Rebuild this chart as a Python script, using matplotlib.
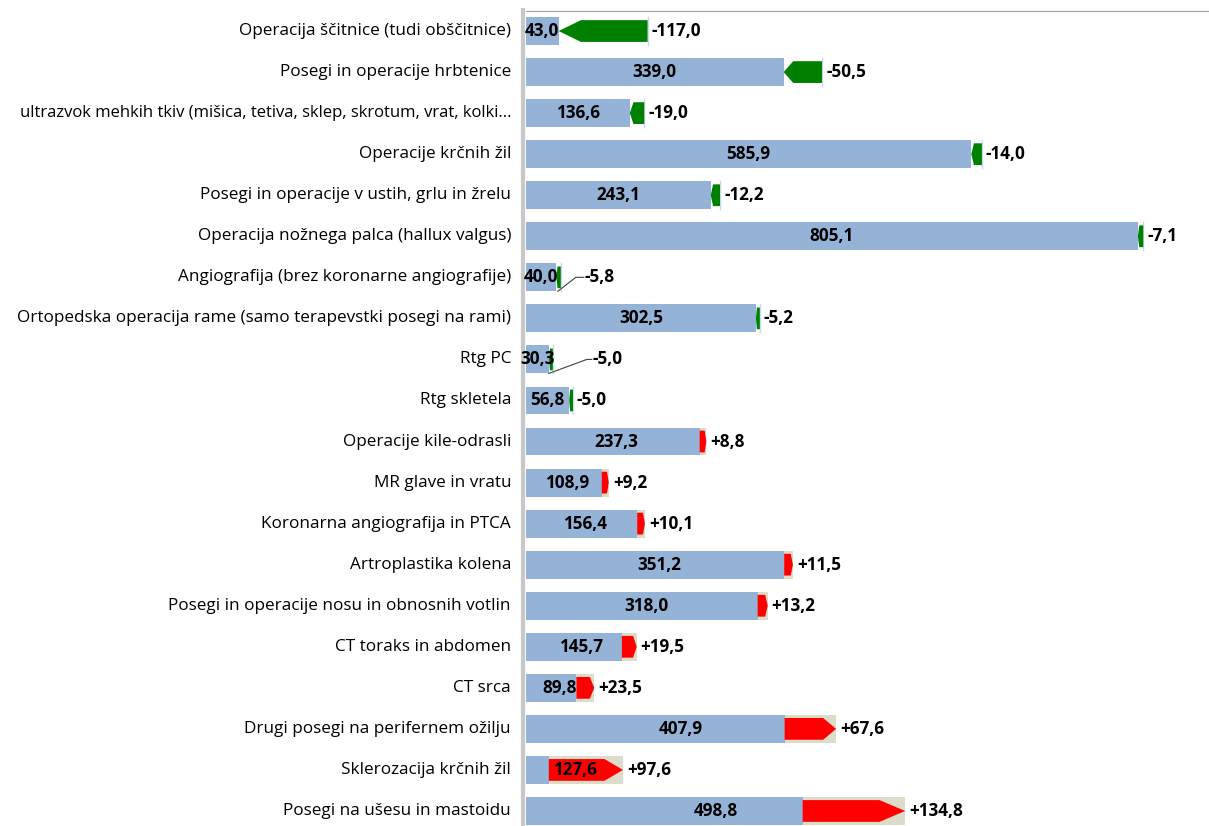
import numpy as np
import matplotlib.pyplot as plt
from matplotlib.patches import Polygon

categories = [
    'Operacija ščitnice (tudi obščitnice)',
    'Posegi in operacije hrbtenice',
    'ultrazvok mehkih tkiv (mišica, tetiva, sklep, skrotum, vrat, kolki...',
    'Operacije krčnih žil',
    'Posegi in operacije v ustih, grlu in žrelu',
    'Operacija nožnega palca (hallux valgus)',
    'Angiografija (brez koronarne angiografije)',
    'Ortopedska operacija rame (samo terapevstki posegi na rami)',
    'Rtg PC',
    'Rtg skletela',
    'Operacije kile-odrasli',
    'MR glave in vratu',
    'Koronarna angiografija in PTCA',
    'Artroplastika kolena',
    'Posegi in operacije nosu in obnosnih votlin',
    'CT toraks in abdomen',
    'CT srca',
    'Drugi posegi na perifernem ožilju',
    'Sklerozacija krčnih žil',
    'Posegi na ušesu in mastoidu',
]
current = [43.0, 339.0, 136.6, 585.9, 243.1, 805.1, 40.0, 302.5, 30.3, 56.8,
           237.3, 108.9, 156.4, 351.2, 318.0, 145.7, 89.8, 407.9, 127.6, 498.8]
change = [-117.0, -50.5, -19.0, -14.0, -12.2, -7.1, -5.8, -5.2, -5.0, -5.0,
          8.8, 9.2, 10.1, 11.5, 13.2, 19.5, 23.5, 67.6, 97.6, 134.8]

plt.rcParams['font.family'] = ['Open Sans', 'DejaVu Sans']
fs = 12.3
plt.rcParams['font.size'] = fs

W, H = 1209, 826
fig = plt.figure(figsize=(W / 100, H / 100), dpi=100)
x0, x1 = 526, 1210
y_top, y_bot = 10.5, 831.5
ax = fig.add_axes([x0 / W, (H - y_bot) / H, (x1 - x0) / W, (y_bot - y_top) / H])

n = len(categories)
xmax = 900
ax.set_xlim(0, xmax)
ax.set_ylim(n - 0.5, -0.5)
px = xmax / (x1 - x0)      # data units per pixel
py = n / (y_bot - y_top)

blue = '#95B3D7'
beige = '#DDDBC9'
green = '#008000'
red = '#FF0000'
bar_h = 0.68
arr_h = 0.53

# labels that were moved away with a leader line: (knee px, label px, line start px)
leaders = {6: (15, 24, -3), 8: (34, 40, -4)}

for i, (cur, d) in enumerate(zip(current, change)):
    prev = cur - d
    if d > 0:
        ax.barh(i, cur, height=bar_h, color=beige, zorder=1)
        ax.barh(i, prev, height=bar_h, color=blue, zorder=2)
        col = red
    else:
        ax.barh(i, cur, height=bar_h, color=blue, zorder=2)
        ax.plot([prev, prev], [i - bar_h / 2, i + bar_h / 2], color='#C6D9F0', lw=1, zorder=2)
        col = green
    head = 0.25 * d
    hh = arr_h / 2
    pts = [(prev, i - hh), (cur - head, i - hh), (cur, i), (cur - head, i + hh), (prev, i + hh)]
    ax.add_patch(Polygon(pts, closed=True, facecolor=col, lw=0, zorder=3))

    ax.text(cur / 2, i, f'{cur:.1f}'.replace('.', ','), ha='center', va='center',
            fontsize=fs, fontweight='bold', zorder=5)

    end = max(prev, cur)
    lab = f'{d:+.1f}'.replace('.', ',')
    if i in leaders:
        knee, lx, sx = leaders[i]
        ax.plot([end + sx * px, end + knee * px, end + (lx - 1) * px],
                [i + 14 * py, i, i], color='#404040', lw=0.8, zorder=4)
        ax.text(end + lx * px, i, lab, ha='left', va='center', fontsize=fs,
                fontweight='bold', zorder=5)
    else:
        ax.text(end + 4 * px, i, lab, ha='left', va='center', fontsize=fs,
                fontweight='bold', zorder=5)

# category labels drawn as plain text so the long one can be a bit smaller
for i, c in enumerate(categories):
    size = fs if len(c) < 62 else 12.0
    ax.annotate(c, xy=(0, i), xycoords=('axes fraction', 'data'),
                xytext=(-15, 0), textcoords='offset pixels',
                ha='right', va='center', fontsize=size)

ax.set_yticks([])
ax.set_xticks([])

for s in ['right', 'bottom']:
    ax.spines[s].set_visible(False)
ax.spines['top'].set_color('#A0A0A0')
ax.spines['top'].set_linewidth(0.8)
ax.spines['left'].set_color('#C8C8C8')
ax.spines['left'].set_linewidth(3)
ax.spines['left'].set_position(('outward', 2.3))

fig.savefig('out.png', dpi=100)
